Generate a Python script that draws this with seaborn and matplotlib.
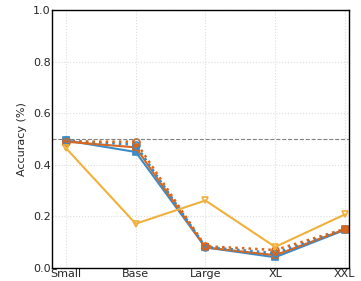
import numpy as np
import pandas as pd
import matplotlib
matplotlib.use("Agg")
import matplotlib.pyplot as plt
import seaborn as sns

categories = ["Small", "Base", "Large", "XL", "XXL"]
blue_solid = [0.495, 0.450, 0.080, 0.042, 0.148]
orange_solid = [0.490, 0.468, 0.080, 0.050, 0.150]
blue_dotted = [0.495, 0.478, 0.082, 0.058, 0.150]
orange_dotted = [0.490, 0.490, 0.085, 0.070, 0.152]
yellow_solid = [0.465, 0.172, 0.262, 0.082, 0.208]
baseline = 0.5

sns.set_style("white")
plt.rcParams['font.family'] = ['DejaVu Sans']

fig = plt.figure(figsize=(3.61, 2.81), dpi=100)
ax = fig.add_axes([0.144, 0.046, 0.823, 0.918])

BLUE = "#3b8bc9"
ORANGE = "#d9661a"
YELLOW = "#f0b03c"

x = np.arange(len(categories))
series = [
    (blue_solid, BLUE, "-", "s", True),
    (orange_solid, ORANGE, "-", "s", True),
    (blue_dotted, BLUE, ":", "o", False),
    (orange_dotted, ORANGE, ":", "o", False),
    (yellow_solid, YELLOW, "-", "v", False),
]
for vals, c, ls, m, filled in series:
    df = pd.DataFrame({"x": x, "y": vals})
    sns.lineplot(data=df, x="x", y="y", ax=ax, color=c, linestyle=ls,
                 linewidth=1.8 if ls == ":" else 1.5,
                 marker=m, markersize=5,
                 markerfacecolor=c if filled else "none",
                 markeredgecolor=c, markeredgewidth=1.2)

ax.axhline(baseline, color="gray", linestyle="--", linewidth=0.8)

ax.set_xlim(-0.2, 4.06)
ax.set_ylim(0, 1.0)
ax.set_xticks(x)
ax.set_xticklabels(categories)
ax.set_yticks([0, 0.2, 0.4, 0.6, 0.8, 1.0])
ax.set_yticklabels(["0.0", "0.2", "0.4", "0.6", "0.8", "1.0"])
ax.set_xlabel("")
ax.set_ylabel("Accuracy (%)", fontsize=8)
ax.tick_params(labelsize=8, length=2, pad=1, direction="in")
ax.grid(True, linestyle=":", color="#dddddd", linewidth=0.8)
for s in ax.spines.values():
    s.set_color("black")
    s.set_linewidth(1.0)

fig.savefig("out.png", dpi=100)
